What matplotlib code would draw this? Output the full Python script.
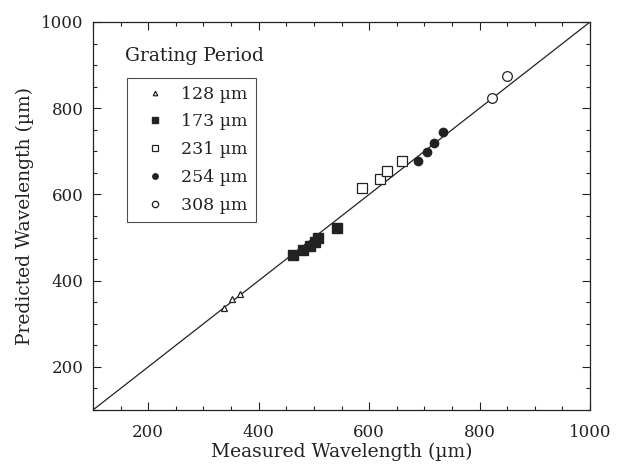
import numpy as np
import matplotlib
matplotlib.use("Agg")
import matplotlib.pyplot as plt
from matplotlib.ticker import MultipleLocator

plt.rcParams['font.family'] = ['DejaVu Serif']

INK = "#222222"

# measured vs predicted wavelength (um), one set per grating period
meas_128 = [338, 351, 367]
pred_128 = [336, 357, 368]
meas_173 = [463, 481, 493, 502, 508, 542]
pred_173 = [460, 471, 480, 490, 498, 523]
meas_231 = [588, 620, 632, 660]
pred_231 = [616, 636, 655, 678]
meas_254 = [689, 704, 718, 733]
pred_254 = [678, 698, 720, 744]
meas_308 = [822, 850]
pred_308 = [823, 875]

fig = plt.figure(figsize=(6.22, 4.70), dpi=100)
ax = fig.add_axes([0.1495, 0.1277, 0.7991, 0.8255])

ax.plot([100, 1000], [100, 1000], color=INK, lw=0.9)

ax.plot(meas_128, pred_128, ls="none", marker="^", ms=5, mfc="white", mec=INK, mew=0.9, label="128 µm")
ax.plot(meas_173, pred_173, ls="none", marker="s", ms=7.5, mfc=INK, mec=INK, label="173 µm")
ax.plot(meas_231, pred_231, ls="none", marker="s", ms=7.5, mfc="white", mec=INK, mew=0.9, label="231 µm")
ax.plot(meas_254, pred_254, ls="none", marker="o", ms=6, mfc=INK, mec=INK, label="254 µm")
ax.plot(meas_308, pred_308, ls="none", marker="o", ms=7, mfc="white", mec=INK, mew=0.9, label="308 µm")

ax.set_xlim(100, 1000)
ax.set_ylim(100, 1000)
ax.xaxis.set_major_locator(MultipleLocator(200))
ax.yaxis.set_major_locator(MultipleLocator(200))
ax.xaxis.set_minor_locator(MultipleLocator(50))
ax.yaxis.set_minor_locator(MultipleLocator(50))
ax.tick_params(which="both", direction="in", top=True, right=True, colors=INK, labelsize=12)
ax.tick_params(axis="x", which="major", pad=10)
ax.tick_params(axis="y", which="major", pad=7)
ax.tick_params(which="major", length=6, width=0.8)
ax.tick_params(which="minor", length=3, width=0.8)
for s in ax.spines.values():
    s.set_color(INK)
    s.set_linewidth(0.9)

ax.set_xlabel("Measured Wavelength (µm)", fontsize=13.5, color=INK, labelpad=1)
ax.set_ylabel("Predicted Wavelength (µm)", fontsize=13.5, color=INK, labelpad=5)

ax.text(0.064, 0.9, "Grating Period", transform=ax.transAxes, fontsize=13.5, color=INK)
leg = ax.legend(loc="upper left", bbox_to_anchor=(0.068, 0.856), fontsize=12.5, frameon=True,
                fancybox=False, edgecolor=INK, markerscale=0.65, handlelength=2.4,
                handletextpad=0.3, labelspacing=0.62, borderpad=0.45, numpoints=1,
                borderaxespad=0)
leg.get_frame().set_linewidth(0.8)
for t in leg.get_texts():
    t.set_color(INK)

fig.savefig("out.png", dpi=100, facecolor="white")
